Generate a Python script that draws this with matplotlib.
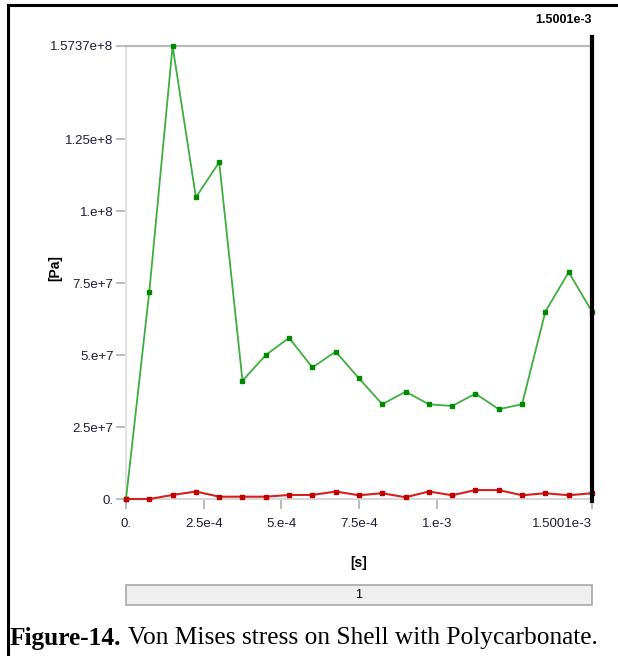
import matplotlib
matplotlib.use("Agg")
import matplotlib.pyplot as plt
from matplotlib.lines import Line2D
from matplotlib.patches import Rectangle

# ---- data ----
time_s = [0.0, 7.5e-5, 1.5e-4, 2.25e-4, 3.0e-4, 3.75e-4, 4.5e-4, 5.25e-4, 6.0e-4,
          6.75e-4, 7.5e-4, 8.25e-4, 9.0e-4, 9.75e-4, 1.05e-3, 1.125e-3, 1.2e-3,
          1.275e-3, 1.35e-3, 1.425e-3, 1.5001e-3]
max_stress = [0.0, 72.0e6, 157.37e6, 104.8e6, 117.0e6, 41.1e6, 50.0e6, 56.0e6, 45.7e6,
              51.2e6, 41.9e6, 32.9e6, 37.3e6, 32.9e6, 32.3e6, 36.6e6, 31.2e6,
              32.9e6, 65.1e6, 78.8e6, 65.1e6]
min_stress = [0.0, 0.0, 1.4e6, 2.6e6, 0.8e6, 0.8e6, 0.8e6, 1.4e6, 1.4e6,
              2.6e6, 1.3e6, 2.0e6, 0.6e6, 2.6e6, 1.3e6, 3.1e6, 3.1e6,
              1.3e6, 2.0e6, 1.3e6, 2.0e6]
x_ticks = [0.0, 2.5e-4, 5.0e-4, 7.5e-4, 1.0e-3, 1.5001e-3]
x_tick_labels = ["0.", "2.5e-4", "5.e-4", "7.5e-4", "1.e-3", "1.5001e-3"]
y_ticks = [0.0, 2.5e7, 5.0e7, 7.5e7, 1.0e8, 1.25e8, 1.5737e8]
y_tick_labels = ["0.", "2.5e+7", "5.e+7", "7.5e+7", "1.e+8", "1.25e+8", "1.5737e+8"]
cursor_time = 1.5001e-3
cursor_label = "1.5001e-3"
x_label = "[s]"
y_label = "[Pa]"
step_label = "1"
caption_bold = "Figure-14."
caption_rest = " Von Mises stress on Shell with Polycarbonate."

W, H = 618, 656
fig = plt.figure(figsize=(W / 100, H / 100), dpi=100)
fig.patch.set_facecolor("white")

narrow = ["Liberation Sans Narrow", "Liberation Sans", "DejaVu Sans"]
label_color = "#1c1c3a"

left, right, bottom, top = 126, 592, 499, 46
ax = fig.add_axes([left / W, 1 - bottom / H, (right - left) / W, (bottom - top) / H])
ax.set_xlim(0, cursor_time)
ax.set_ylim(0, max(y_ticks))

ax.plot(time_s, max_stress, color="#3fae3f", lw=1.3, marker="s", ms=3.0,
        mfc="#008a00", mec="#008a00", clip_on=False, zorder=3)
ax.plot(time_s, min_stress, color="#d42020", lw=1.5, marker="s", ms=3.0,
        mfc="#c00000", mec="#c00000", clip_on=False, zorder=4)

ax.axvline(cursor_time, ymin=-0.005, ymax=1.02, color="black", lw=3, clip_on=False, zorder=5)
ax.text(cursor_time, 1.0 + 26 / (bottom - top), cursor_label,
        transform=ax.get_xaxis_transform(), ha="right", va="center",
        fontsize=9, fontweight="bold", family=narrow, color="black")

ax.spines["right"].set_visible(False)
ax.spines["top"].set_color("#b8b8b8")
ax.spines["top"].set_linewidth(1.6)
ax.spines["left"].set_color("#e2e2e2")
ax.spines["left"].set_linewidth(1.5)
ax.spines["bottom"].set_color("#d8d8d8")
ax.spines["bottom"].set_linewidth(1.5)

ax.set_xticks(x_ticks)
ax.set_xticklabels(x_tick_labels, family=narrow, fontsize=9.5, color=label_color)
ax.get_xticklabels()[-1].set_horizontalalignment("right")
ax.set_yticks(y_ticks)
ax.set_yticklabels(y_tick_labels, family=narrow, fontsize=9.5, color=label_color)
ax.tick_params(axis="both", direction="out", length=7, width=1.2, color="#b0b0b0")
ax.tick_params(axis="x", pad=7)
ax.tick_params(axis="y", pad=2)

fig.text(55 / W, 1 - 268 / H, y_label, rotation=90, ha="center", va="center",
         fontsize=10, fontweight="bold", family=narrow, color="black")
fig.text(359 / W, 1 - 563 / H, x_label, ha="center", va="center",
         fontsize=10, fontweight="bold", family=narrow, color="black")

# step bar
fig.patches.append(Rectangle((126 / W, 1 - 605 / H), (592 - 126) / W, 20 / H,
                             transform=fig.transFigure, facecolor="#efefef",
                             edgecolor="#a8a8a8", lw=1.2))
fig.text(359 / W, 1 - 595 / H, step_label, ha="center", va="center",
         fontsize=9, family=narrow, color="black")

# cell borders
fig.add_artist(Line2D([8 / W, 1.0], [1 - 5 / H, 1 - 5 / H], transform=fig.transFigure,
                      color="black", lw=2.2))
fig.add_artist(Line2D([8 / W, 8 / W], [0, 1 - 5 / H], transform=fig.transFigure,
                      color="black", lw=2.2))

# caption
serif = ["Liberation Serif", "DejaVu Serif"]
t1 = fig.text(10 / W, 1 - 638 / H, caption_bold, ha="left", va="center",
              fontsize=18.3, fontweight="bold", family=serif)
fig.canvas.draw()
bb = t1.get_window_extent()
fig.text(bb.x1 / W, 1 - 638 / H, caption_rest, ha="left", va="center",
         fontsize=18.3, family=serif)

fig.savefig("out.png", dpi=100)
